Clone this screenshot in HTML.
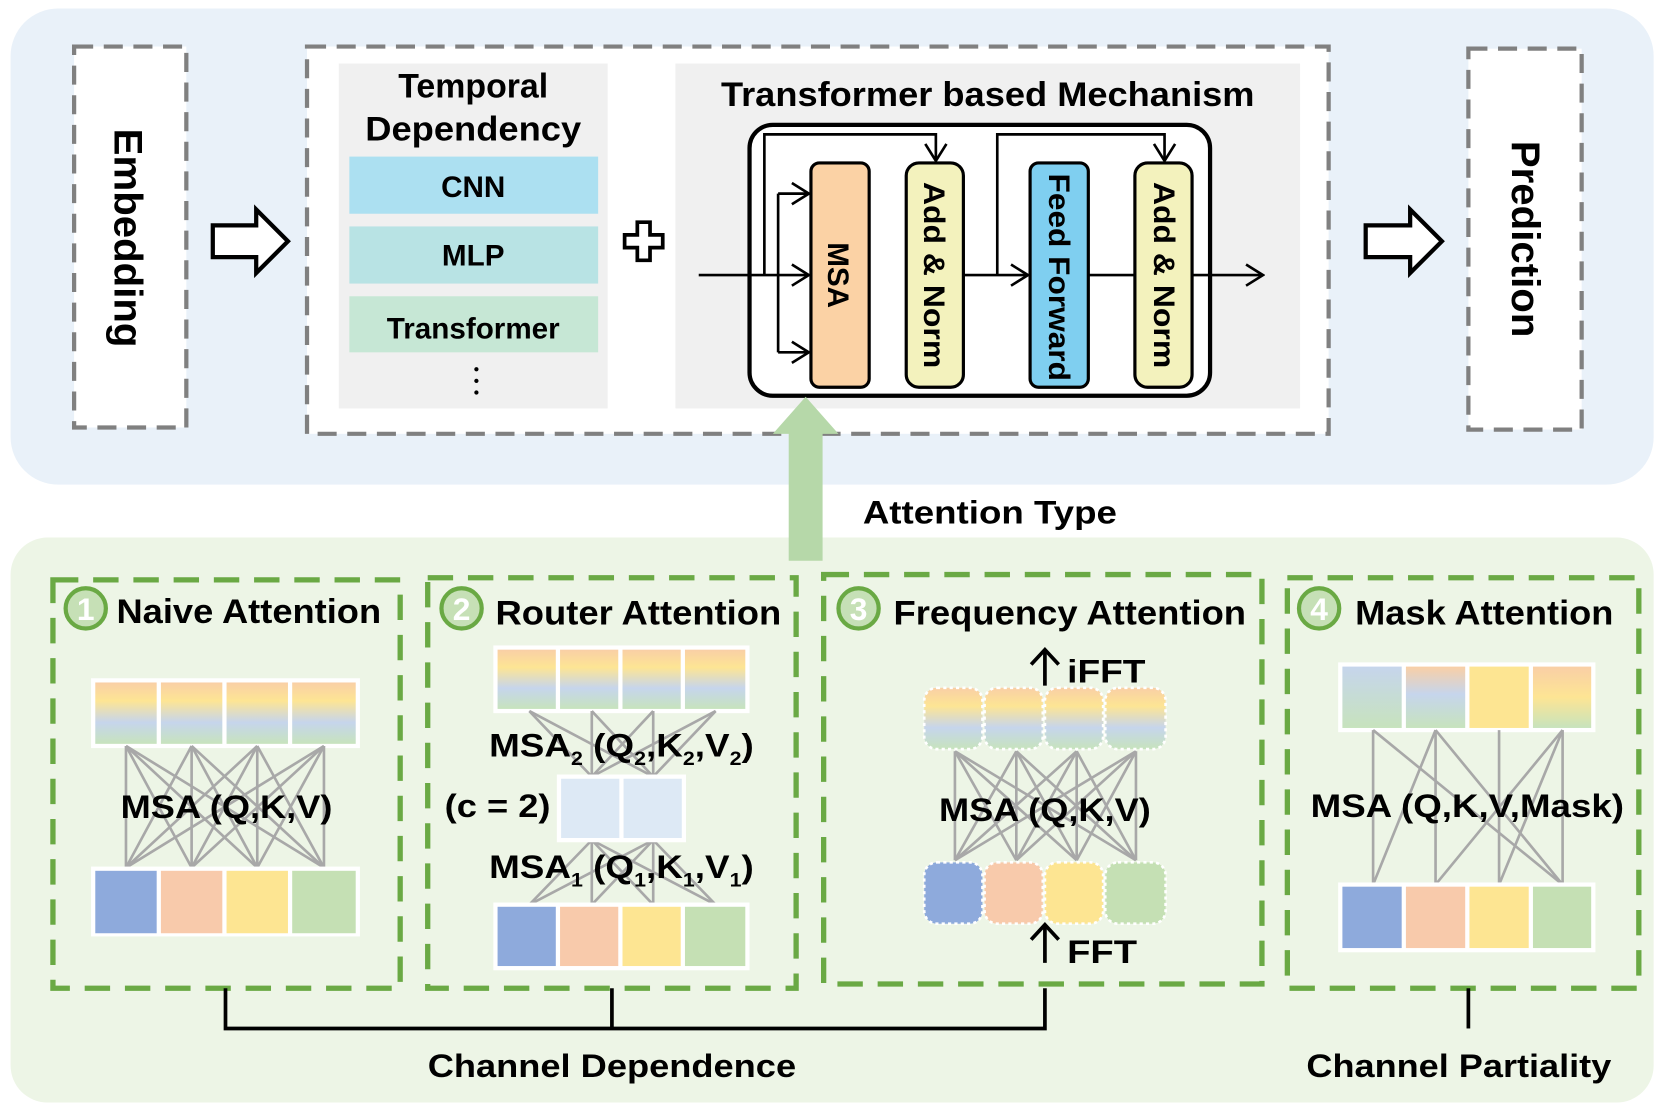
<!DOCTYPE html>
<html><head><meta charset="utf-8"><style>
html,body{margin:0;padding:0;background:#fff;}
svg{display:block;}
text{font-family:"Liberation Sans",Arial,sans-serif;font-weight:bold;fill:#000;}
text.wn{fill:#fff;}
</style></head><body>
<svg width="1660" height="1111" viewBox="0 0 1568 1050" preserveAspectRatio="none" xmlns="http://www.w3.org/2000/svg">
<defs>
<linearGradient id="g1" x1="0" y1="0" x2="0" y2="1">
<stop offset="0" stop-color="#f9cfa6"/><stop offset="0.3" stop-color="#fde594"/><stop offset="0.65" stop-color="#c6d5ec"/><stop offset="1" stop-color="#c7e3bd"/></linearGradient>
<linearGradient id="gm1" x1="0" y1="0" x2="0" y2="1"><stop offset="0" stop-color="#c6d5ec"/><stop offset="1" stop-color="#c7e3bd"/></linearGradient>
<linearGradient id="gm2" x1="0" y1="0" x2="0" y2="1"><stop offset="0" stop-color="#f9cfa6"/><stop offset="0.45" stop-color="#c6d5ec"/><stop offset="1" stop-color="#c7e3bd"/></linearGradient>
<linearGradient id="gm4" x1="0" y1="0" x2="0" y2="1"><stop offset="0" stop-color="#f9cfa6"/><stop offset="0.5" stop-color="#fde594"/><stop offset="1" stop-color="#c7e3bd"/></linearGradient>
<marker id="ah" markerWidth="20" markerHeight="24" refX="18" refY="12" orient="auto" markerUnits="userSpaceOnUse" viewBox="0 0 20 24"><path d="M2,2 L18,12 L2,22" fill="none" stroke="#000" stroke-width="2.5"/></marker>
</defs>

<!-- top panel -->
<rect x="10" y="8" width="1552" height="450" rx="45" fill="#e9f1f9"/>
<rect x="70" y="44" width="106" height="360" fill="#fff" stroke="#808080" stroke-width="4" stroke-dasharray="18,10"/>
<text transform="translate(108,225) rotate(90)" font-size="38" text-anchor="middle">Embedding</text>
<path d="M201,213 L242,213 L242,198 L272,228 L242,258 L242,243 L201,243 Z" fill="#fff" stroke="#000" stroke-width="4" stroke-linejoin="miter"/>

<rect x="290" y="44" width="965" height="366" fill="#fff" stroke="#808080" stroke-width="4" stroke-dasharray="18,10"/>
<rect x="320" y="60" width="254" height="326" fill="#f0f0f0"/>
<text x="447" y="92" font-size="32" text-anchor="middle">Temporal</text>
<text x="447" y="133" font-size="32" text-anchor="middle" textLength="204" lengthAdjust="spacingAndGlyphs">Dependency</text>
<rect x="330" y="148" width="235" height="54" fill="#ace0f1"/>
<text x="447" y="186" font-size="28" text-anchor="middle">CNN</text>
<rect x="330" y="214" width="235" height="54" fill="#b8e3e4"/>
<text x="447" y="251" font-size="28" text-anchor="middle">MLP</text>
<rect x="330" y="280" width="235" height="53" fill="#c6e7d5"/>
<text x="447" y="320" font-size="28" text-anchor="middle">Transformer</text>
<circle cx="450" cy="349" r="2" fill="#000"/><circle cx="450" cy="360" r="2" fill="#000"/><circle cx="450" cy="371" r="2" fill="#000"/>
<path d="M602,210 L614,210 L614,222 L626,222 L626,234 L614,234 L614,246 L602,246 L602,234 L590,234 L590,222 L602,222 Z" fill="#fff" stroke="#000" stroke-width="3.5"/>

<rect x="638" y="60" width="590" height="326" fill="#f0f0f0"/>
<text x="933" y="100" font-size="32" text-anchor="middle" textLength="504" lengthAdjust="spacingAndGlyphs">Transformer based Mechanism</text>
<rect x="708" y="118" width="435" height="256" rx="22" fill="#fff" stroke="#000" stroke-width="4"/>
<rect x="766" y="154" width="55" height="212" rx="8" fill="#fbd2a5" stroke="#000" stroke-width="3"/>
<rect x="856" y="154" width="54" height="212" rx="12" fill="#f3f2bd" stroke="#000" stroke-width="3"/>
<rect x="973" y="154" width="55" height="212" rx="8" fill="#7fcff0" stroke="#000" stroke-width="3"/>
<rect x="1072" y="154" width="54" height="212" rx="12" fill="#f3f2bd" stroke="#000" stroke-width="3"/>
<text transform="translate(782,260) rotate(90)" font-size="28" text-anchor="middle">MSA</text>
<text transform="translate(873,260) rotate(90)" font-size="28" text-anchor="middle" textLength="176" lengthAdjust="spacingAndGlyphs">Add &amp; Norm</text>
<text transform="translate(991,262) rotate(90)" font-size="28" text-anchor="middle" textLength="196" lengthAdjust="spacingAndGlyphs">Feed Forward</text>
<text transform="translate(1090,260) rotate(90)" font-size="28" text-anchor="middle" textLength="176" lengthAdjust="spacingAndGlyphs">Add &amp; Norm</text>
<g stroke="#000" stroke-width="2.5" fill="none">
<line x1="660" y1="260" x2="764" y2="260" marker-end="url(#ah)"/>
<polyline points="735,183 735,333"/>
<line x1="735" y1="183" x2="764" y2="183" marker-end="url(#ah)"/>
<line x1="735" y1="333" x2="764" y2="333" marker-end="url(#ah)"/>
<polyline points="722,260 722,127 884,127 884,152" marker-end="url(#ah)"/>
<line x1="910" y1="260" x2="971" y2="260" marker-end="url(#ah)"/>
<polyline points="942,260 942,127 1100,127 1100,152" marker-end="url(#ah)"/>
<line x1="1028" y1="260" x2="1072" y2="260"/>
<line x1="1126" y1="260" x2="1193" y2="260" marker-end="url(#ah)"/>
</g>
<rect x="1387" y="46" width="107" height="360" fill="#fff" stroke="#808080" stroke-width="4" stroke-dasharray="18,10"/>
<text transform="translate(1428,226) rotate(90)" font-size="38" text-anchor="middle">Prediction</text>
<path d="M1290,213 L1332,213 L1332,198 L1362,228 L1332,258 L1332,243 L1290,243 Z" fill="#fff" stroke="#000" stroke-width="4"/>

<!-- bottom panel -->
<rect x="10" y="508" width="1552" height="534" rx="35" fill="#edf5e6"/>
<path d="M745,530 L745,410 L730,410 L761,375 L792,410 L777,410 L777,530 Z" fill="#b6d8a9"/>
<text x="935" y="495" font-size="31" text-anchor="middle" textLength="240" lengthAdjust="spacingAndGlyphs">Attention Type</text>

<g fill="none" stroke="#6aa944" stroke-width="5" stroke-dasharray="24,14">
<rect x="50" y="548" width="328" height="386"/>
<rect x="404" y="546" width="348" height="388"/>
<rect x="778" y="543" width="414" height="387"/>
<rect x="1216" y="546" width="332" height="388"/>
</g>
<g fill="#c6e0b6" stroke="#6aa944" stroke-width="4">
<circle cx="81" cy="575" r="19"/><circle cx="436" cy="575" r="19"/><circle cx="811" cy="575" r="19"/><circle cx="1246" cy="575" r="19"/>
</g>
<g font-size="30" text-anchor="middle">
<text class="wn" x="81" y="586">1</text><text class="wn" x="436" y="586">2</text><text class="wn" x="811" y="586">3</text><text class="wn" x="1246" y="586">4</text>
</g>
<text x="110" y="589" font-size="32" textLength="250" lengthAdjust="spacingAndGlyphs">Naive Attention</text>
<text x="468" y="590" font-size="32" textLength="270" lengthAdjust="spacingAndGlyphs">Router Attention</text>
<text x="844" y="590" font-size="32" textLength="333" lengthAdjust="spacingAndGlyphs">Frequency Attention</text>
<text x="1280" y="590" font-size="32" textLength="244" lengthAdjust="spacingAndGlyphs">Mask Attention</text>

<!-- Naive -->
<rect x="86" y="641" width="254" height="66" fill="#fff"/>
<rect x="90" y="645" width="58" height="58" fill="url(#g1)"/><rect x="152" y="645" width="58" height="58" fill="url(#g1)"/><rect x="214" y="645" width="58" height="58" fill="url(#g1)"/><rect x="276" y="645" width="60" height="58" fill="url(#g1)"/>
<g stroke="#a8a8a8" stroke-width="2.5">
<line x1="119" y1="705" x2="119" y2="820"/><line x1="119" y1="705" x2="181" y2="820"/><line x1="119" y1="705" x2="243" y2="820"/><line x1="119" y1="705" x2="306" y2="820"/>
<line x1="181" y1="705" x2="119" y2="820"/><line x1="181" y1="705" x2="181" y2="820"/><line x1="181" y1="705" x2="243" y2="820"/><line x1="181" y1="705" x2="306" y2="820"/>
<line x1="243" y1="705" x2="119" y2="820"/><line x1="243" y1="705" x2="181" y2="820"/><line x1="243" y1="705" x2="243" y2="820"/><line x1="243" y1="705" x2="306" y2="820"/>
<line x1="306" y1="705" x2="119" y2="820"/><line x1="306" y1="705" x2="181" y2="820"/><line x1="306" y1="705" x2="243" y2="820"/><line x1="306" y1="705" x2="306" y2="820"/>
</g>
<text x="214" y="773" font-size="31" text-anchor="middle" textLength="200" lengthAdjust="spacingAndGlyphs">MSA (Q,K,V)</text>
<rect x="86" y="819" width="254" height="66" fill="#fff"/>
<rect x="90" y="823" width="58" height="59" fill="#8eaadc"/><rect x="152" y="823" width="58" height="59" fill="#f8caab"/><rect x="214" y="823" width="58" height="59" fill="#fde592"/><rect x="276" y="823" width="60" height="59" fill="#c5e0b4"/>

<!-- Router -->
<rect x="466" y="610" width="242" height="64" fill="#fff"/>
<rect x="470" y="614" width="55" height="56" fill="url(#g1)"/><rect x="529" y="614" width="55" height="56" fill="url(#g1)"/><rect x="588" y="614" width="55" height="56" fill="url(#g1)"/><rect x="647" y="614" width="57" height="56" fill="url(#g1)"/>
<g stroke="#a8a8a8" stroke-width="2.5">
<line x1="500" y1="672" x2="559" y2="734"/><line x1="500" y1="672" x2="617" y2="734"/>
<line x1="559" y1="672" x2="559" y2="734"/><line x1="559" y1="672" x2="617" y2="734"/>
<line x1="617" y1="672" x2="559" y2="734"/><line x1="617" y1="672" x2="617" y2="734"/>
<line x1="676" y1="672" x2="559" y2="734"/><line x1="676" y1="672" x2="617" y2="734"/>
<line x1="559" y1="794" x2="500" y2="855"/><line x1="559" y1="794" x2="559" y2="855"/><line x1="559" y1="794" x2="617" y2="855"/><line x1="559" y1="794" x2="676" y2="855"/>
<line x1="617" y1="794" x2="500" y2="855"/><line x1="617" y1="794" x2="559" y2="855"/><line x1="617" y1="794" x2="617" y2="855"/><line x1="617" y1="794" x2="676" y2="855"/>
</g>
<rect x="526" y="732" width="122" height="64" fill="#fff"/>
<rect x="530" y="736" width="55" height="56" fill="#dde9f5"/><rect x="589" y="736" width="55" height="56" fill="#dde9f5"/>
<text x="462" y="715" font-size="31" textLength="250" lengthAdjust="spacingAndGlyphs">MSA<tspan font-size="18" dy="8">2</tspan><tspan dy="-8"> (Q</tspan><tspan font-size="18" dy="8">2</tspan><tspan dy="-8">,K</tspan><tspan font-size="18" dy="8">2</tspan><tspan dy="-8">,V</tspan><tspan font-size="18" dy="8">2</tspan><tspan dy="-8">)</tspan></text>
<text x="420" y="772" font-size="31" textLength="100" lengthAdjust="spacingAndGlyphs">(c = 2)</text>
<text x="462" y="830" font-size="31" textLength="250" lengthAdjust="spacingAndGlyphs">MSA<tspan font-size="18" dy="8">1</tspan><tspan dy="-8"> (Q</tspan><tspan font-size="18" dy="8">1</tspan><tspan dy="-8">,K</tspan><tspan font-size="18" dy="8">1</tspan><tspan dy="-8">,V</tspan><tspan font-size="18" dy="8">1</tspan><tspan dy="-8">)</tspan></text>
<rect x="466" y="853" width="242" height="64" fill="#fff"/>
<rect x="470" y="857" width="55" height="56" fill="#8eaadc"/><rect x="529" y="857" width="55" height="56" fill="#f8caab"/><rect x="588" y="857" width="55" height="56" fill="#fde592"/><rect x="647" y="857" width="57" height="56" fill="#c5e0b4"/>

<!-- Frequency -->
<g stroke="#a8a8a8" stroke-width="2.5">
<line x1="902" y1="710" x2="902" y2="813"/><line x1="902" y1="710" x2="960" y2="813"/><line x1="902" y1="710" x2="1017" y2="813"/><line x1="902" y1="710" x2="1073" y2="813"/>
<line x1="960" y1="710" x2="902" y2="813"/><line x1="960" y1="710" x2="960" y2="813"/><line x1="960" y1="710" x2="1017" y2="813"/><line x1="960" y1="710" x2="1073" y2="813"/>
<line x1="1017" y1="710" x2="902" y2="813"/><line x1="1017" y1="710" x2="960" y2="813"/><line x1="1017" y1="710" x2="1017" y2="813"/><line x1="1017" y1="710" x2="1073" y2="813"/>
<line x1="1073" y1="710" x2="902" y2="813"/><line x1="1073" y1="710" x2="960" y2="813"/><line x1="1073" y1="710" x2="1017" y2="813"/><line x1="1073" y1="710" x2="1073" y2="813"/>
</g>
<g stroke="#fff" stroke-width="2.5" stroke-dasharray="3,3">
<rect x="873" y="650" width="55" height="58" rx="12" fill="url(#g1)"/><rect x="930" y="650" width="55" height="58" rx="12" fill="url(#g1)"/><rect x="987" y="650" width="55" height="58" rx="12" fill="url(#g1)"/><rect x="1044" y="650" width="57" height="58" rx="12" fill="url(#g1)"/>
<rect x="873" y="815" width="55" height="58" rx="12" fill="#8eaadc"/><rect x="930" y="815" width="55" height="58" rx="12" fill="#f8caab"/><rect x="987" y="815" width="55" height="58" rx="12" fill="#fde592"/><rect x="1044" y="815" width="57" height="58" rx="12" fill="#c5e0b4"/>
</g>
<g stroke="#000" stroke-width="3.5" fill="none">
<line x1="987" y1="648" x2="987" y2="614"/><polyline points="974,628 987,614 1000,628"/>
<line x1="987" y1="910" x2="987" y2="874"/><polyline points="974,888 987,874 1000,888"/>
</g>
<text x="1008" y="645" font-size="31" textLength="74" lengthAdjust="spacingAndGlyphs">iFFT</text>
<text x="1008" y="910" font-size="31" textLength="66" lengthAdjust="spacingAndGlyphs">FFT</text>
<text x="987" y="776" font-size="31" text-anchor="middle" textLength="200" lengthAdjust="spacingAndGlyphs">MSA (Q,K,V)</text>

<!-- Mask -->
<rect x="1264" y="626" width="243" height="66" fill="#fff"/>
<rect x="1268" y="630" width="56" height="58" fill="url(#gm1)"/><rect x="1328" y="630" width="56" height="58" fill="url(#gm2)"/><rect x="1388" y="630" width="56" height="58" fill="#fde592"/><rect x="1448" y="630" width="55" height="58" fill="url(#gm4)"/>
<g stroke="#a8a8a8" stroke-width="2.5">
<line x1="1297" y1="690" x2="1297" y2="836"/><line x1="1297" y1="690" x2="1476" y2="836"/>
<line x1="1356" y1="690" x2="1297" y2="836"/><line x1="1356" y1="690" x2="1356" y2="836"/><line x1="1356" y1="690" x2="1476" y2="836"/>
<line x1="1416" y1="690" x2="1416" y2="836"/>
<line x1="1476" y1="690" x2="1356" y2="836"/><line x1="1476" y1="690" x2="1416" y2="836"/><line x1="1476" y1="690" x2="1476" y2="836"/>
</g>
<text x="1386" y="772" font-size="31" text-anchor="middle" textLength="296" lengthAdjust="spacingAndGlyphs">MSA (Q,K,V,Mask)</text>
<rect x="1264" y="834" width="243" height="66" fill="#fff"/>
<rect x="1268" y="838" width="56" height="58" fill="#8eaadc"/><rect x="1328" y="838" width="56" height="58" fill="#f8caab"/><rect x="1388" y="838" width="56" height="58" fill="#fde592"/><rect x="1448" y="838" width="55" height="58" fill="#c5e0b4"/>

<!-- brackets -->
<g stroke="#000" stroke-width="3.5" fill="none">
<polyline points="213,934 213,972 987,972 987,934"/>
<line x1="578" y1="934" x2="578" y2="972"/>
<line x1="1387" y1="934" x2="1387" y2="972"/>
</g>
<text x="578" y="1018" font-size="31" text-anchor="middle" textLength="348" lengthAdjust="spacingAndGlyphs">Channel Dependence</text>
<text x="1378" y="1018" font-size="31" text-anchor="middle" textLength="288" lengthAdjust="spacingAndGlyphs">Channel Partiality</text>
</svg>
</body></html>
